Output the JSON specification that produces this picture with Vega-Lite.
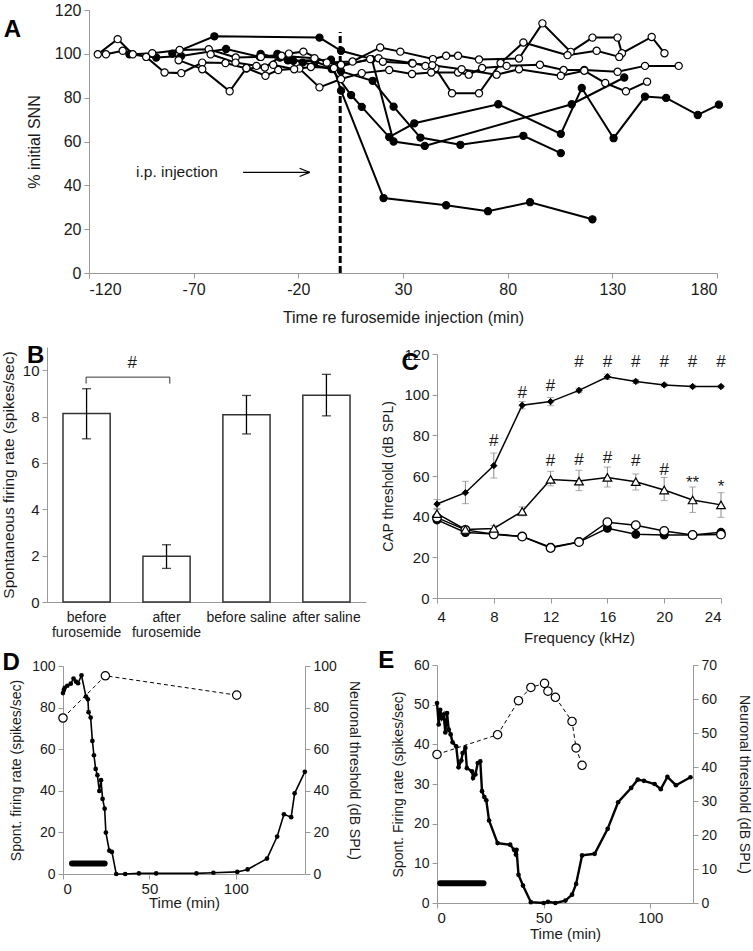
{
"$schema":"https://vega.github.io/schema/vega-lite/v6.json",
"background":"white",
"padding":{"left":0,"top":2,"right":1,"bottom":2},
"config":{
 "view":{"stroke":null},
 "font":"Liberation Sans",
 "axis":{"grid":false,"domainColor":"#999","domainWidth":1,"tickColor":"#999","tickSize":5,"labelColor":"#1a1a1a","titleColor":"#1a1a1a","labelFont":"Liberation Sans","titleFont":"Liberation Sans","labelFontSize":14,"titleFontSize":14,"titleFontWeight":"normal","labelPadding":3,"labelOverlap":false},
 "text":{"font":"Liberation Sans"}
},
"datasets":{
 "S":[{"a":0}],
 "A":[
  {"s":"F1","g":"F","t":-80.2,"v":100.1},{"s":"F1","g":"F","t":-60.1,"v":108},{"s":"F1","g":"F","t":-9.9,"v":107.4},{"s":"F1","g":"F","t":0.4,"v":101.4},{"s":"F1","g":"F","t":15.1,"v":97.6},{"s":"F1","g":"F","t":25.5,"v":60},{"s":"F1","g":"F","t":40.4,"v":58},{"s":"F1","g":"F","t":110.6,"v":77},{"s":"F1","g":"F","t":135.7,"v":89.2},
  {"s":"F2","g":"F","t":-100.7,"v":99.8},{"s":"F2","g":"F","t":-87.9,"v":98.3},{"s":"F2","g":"F","t":-76,"v":99},{"s":"F2","g":"F","t":-54.5,"v":102.2},{"s":"F2","g":"F","t":-38.4,"v":98.6},{"s":"F2","g":"F","t":-28.8,"v":98.3},{"s":"F2","g":"F","t":-22.4,"v":96.8},{"s":"F2","g":"F","t":-4.4,"v":97.3},{"s":"F2","g":"F","t":0.4,"v":83.2},{"s":"F2","g":"F","t":20.7,"v":34.2},{"s":"F2","g":"F","t":50.6,"v":30.9},{"s":"F2","g":"F","t":70.6,"v":28.2},{"s":"F2","g":"F","t":90.7,"v":32.3},{"s":"F2","g":"F","t":120.5,"v":24.5},
  {"s":"F3","g":"F","t":-38,"v":100},{"s":"F3","g":"F","t":-25,"v":97},{"s":"F3","g":"F","t":-12,"v":96.5},{"s":"F3","g":"F","t":0.4,"v":92},{"s":"F3","g":"F","t":15.5,"v":87.7},{"s":"F3","g":"F","t":25.5,"v":75.9},{"s":"F3","g":"F","t":38.3,"v":61.8},{"s":"F3","g":"F","t":57.4,"v":58.5},{"s":"F3","g":"F","t":87.5,"v":62.6},{"s":"F3","g":"F","t":105.4,"v":54.7},
  {"s":"F4","g":"F","t":-30,"v":100},{"s":"F4","g":"F","t":-18,"v":96},{"s":"F4","g":"F","t":-4,"v":93},{"s":"F4","g":"F","t":5.2,"v":81.2},{"s":"F4","g":"F","t":10.3,"v":75.8},{"s":"F4","g":"F","t":23.4,"v":62},{"s":"F4","g":"F","t":35.4,"v":68.3},{"s":"F4","g":"F","t":75.5,"v":77},{"s":"F4","g":"F","t":105.4,"v":63.5},{"s":"F4","g":"F","t":115.4,"v":84.4},{"s":"F4","g":"F","t":130.6,"v":61.5},{"s":"F4","g":"F","t":145.6,"v":80.5},{"s":"F4","g":"F","t":155.7,"v":79.9},{"s":"F4","g":"F","t":170.8,"v":72.1},{"s":"F4","g":"F","t":180.9,"v":76.8},
  {"s":"O1","g":"O","t":-115.8,"v":99.8},{"s":"O1","g":"O","t":-106.3,"v":106.7},{"s":"O1","g":"O","t":-99.1,"v":99.8},{"s":"O1","g":"O","t":-89.8,"v":100.3},{"s":"O1","g":"O","t":-76.7,"v":101.8},{"s":"O1","g":"O","t":-62.8,"v":102.1},{"s":"O1","g":"O","t":-49.9,"v":98.3},{"s":"O1","g":"O","t":-37.9,"v":98.6},{"s":"O1","g":"O","t":-24.5,"v":100.1},{"s":"O1","g":"O","t":-17.6,"v":101},{"s":"O1","g":"O","t":-6.4,"v":96},{"s":"O1","g":"O","t":5.9,"v":96.5},{"s":"O1","g":"O","t":19.1,"v":102.9},{"s":"O1","g":"O","t":28.7,"v":101},{"s":"O1","g":"O","t":44.3,"v":97.6},{"s":"O1","g":"O","t":50.6,"v":99.1},{"s":"O1","g":"O","t":56.3,"v":99.1},{"s":"O1","g":"O","t":66.3,"v":97.4},{"s":"O1","g":"O","t":85.4,"v":97.9},{"s":"O1","g":"O","t":96.6,"v":113.9},{"s":"O1","g":"O","t":110.1,"v":100.9},{"s":"O1","g":"O","t":120.5,"v":107.4},{"s":"O1","g":"O","t":132.5,"v":107.4},{"s":"O1","g":"O","t":134.6,"v":100.3},{"s":"O1","g":"O","t":148.8,"v":107.7},{"s":"O1","g":"O","t":154.9,"v":100.3},
  {"s":"O2","g":"O","t":-111.9,"v":99.8},{"s":"O2","g":"O","t":-103.9,"v":101.4},{"s":"O2","g":"O","t":-92.7,"v":98.6},{"s":"O2","g":"O","t":-83.9,"v":91.5},{"s":"O2","g":"O","t":-75.9,"v":91.2},{"s":"O2","g":"O","t":-65.9,"v":96},{"s":"O2","g":"O","t":-54.8,"v":95.8},{"s":"O2","g":"O","t":-44.8,"v":93.3},{"s":"O2","g":"O","t":-36,"v":93.8},{"s":"O2","g":"O","t":-28,"v":99.1},{"s":"O2","g":"O","t":-12.3,"v":98},{"s":"O2","g":"O","t":0.4,"v":95},{"s":"O2","g":"O","t":18.3,"v":98},{"s":"O2","g":"O","t":34.3,"v":95.8},{"s":"O2","g":"O","t":40.7,"v":94.5},{"s":"O2","g":"O","t":45.5,"v":93.5},{"s":"O2","g":"O","t":53.4,"v":82},{"s":"O2","g":"O","t":66.3,"v":82},{"s":"O2","g":"O","t":76.6,"v":95.8},{"s":"O2","g":"O","t":87.5,"v":105.2},{"s":"O2","g":"O","t":108.6,"v":99.4},{"s":"O2","g":"O","t":122.5,"v":101.4},{"s":"O2","g":"O","t":133.3,"v":98.6},
  {"s":"O3","g":"O","t":-77.2,"v":97.1},{"s":"O3","g":"O","t":-65.9,"v":93},{"s":"O3","g":"O","t":-52.8,"v":82.9},{"s":"O3","g":"O","t":-44.8,"v":93.5},{"s":"O3","g":"O","t":-35.7,"v":90},{"s":"O3","g":"O","t":-29.6,"v":92.6},{"s":"O3","g":"O","t":-19.5,"v":93.3},{"s":"O3","g":"O","t":-9.9,"v":84.7},{"s":"O3","g":"O","t":0.4,"v":88.5},{"s":"O3","g":"O","t":10.3,"v":91.2},{"s":"O3","g":"O","t":23.4,"v":92.6},{"s":"O3","g":"O","t":34.3,"v":90.8},{"s":"O3","g":"O","t":43.5,"v":91.5},{"s":"O3","g":"O","t":56.3,"v":91.5},{"s":"O3","g":"O","t":61.4,"v":90.5},{"s":"O3","g":"O","t":67.8,"v":93.5},{"s":"O3","g":"O","t":79.5,"v":94.5},{"s":"O3","g":"O","t":95.4,"v":95},{"s":"O3","g":"O","t":106.7,"v":92.6},{"s":"O3","g":"O","t":116.6,"v":92.6},{"s":"O3","g":"O","t":132.5,"v":91.8},{"s":"O3","g":"O","t":145.6,"v":94.5},{"s":"O3","g":"O","t":161.7,"v":94.5},
  {"s":"O4","g":"O","t":-61.9,"v":99.8},{"s":"O4","g":"O","t":-50,"v":96},{"s":"O4","g":"O","t":-40,"v":94.5},{"s":"O4","g":"O","t":-32,"v":95},{"s":"O4","g":"O","t":-22,"v":93},{"s":"O4","g":"O","t":-14,"v":94},{"s":"O4","g":"O","t":-3,"v":93.5},{"s":"O4","g":"O","t":14.3,"v":97.6},{"s":"O4","g":"O","t":20.4,"v":96.4},{"s":"O4","g":"O","t":34.6,"v":95.6},{"s":"O4","g":"O","t":44,"v":94.8},{"s":"O4","g":"O","t":58,"v":93},{"s":"O4","g":"O","t":74.7,"v":90.5},{"s":"O4","g":"O","t":85.4,"v":93},{"s":"O4","g":"O","t":105.4,"v":90},{"s":"O4","g":"O","t":116.6,"v":92.3},{"s":"O4","g":"O","t":126.6,"v":86.7},{"s":"O4","g":"O","t":136.5,"v":82.9},{"s":"O4","g":"O","t":146.6,"v":87.3}
 ],
 "B":[
  {"cond":"before furosemide","m":8.13,"lo":7.04,"hi":9.2},
  {"cond":"after furosemide","m":1.97,"lo":1.45,"hi":2.47},
  {"cond":"before saline","m":8.08,"lo":7.25,"hi":8.91},
  {"cond":"after saline","m":8.92,"lo":8.03,"hi":9.82}
 ],
 "C":[
  {"s":"fc","f":4,"v":38.4},{"s":"fc","f":6,"v":32.2},{"s":"fc","f":8,"v":31.5},{"s":"fc","f":10,"v":30.3},{"s":"fc","f":12,"v":25},{"s":"fc","f":14,"v":27.5},{"s":"fc","f":16,"v":34.3},{"s":"fc","f":18,"v":31.3},{"s":"fc","f":20,"v":31},{"s":"fc","f":22,"v":31},{"s":"fc","f":24,"v":32.3},
  {"s":"oc","f":4,"v":39.5},{"s":"oc","f":6,"v":33.5},{"s":"oc","f":8,"v":31.3},{"s":"oc","f":10,"v":30.2},{"s":"oc","f":12,"v":24.6},{"s":"oc","f":14,"v":27.5},{"s":"oc","f":16,"v":37.3},{"s":"oc","f":18,"v":35.8},{"s":"oc","f":20,"v":33},{"s":"oc","f":22,"v":31},{"s":"oc","f":24,"v":31.2},
  {"s":"tri","f":4,"v":41.5,"lo":39.5,"hi":43.5},{"s":"tri","f":6,"v":33.7,"lo":32.2,"hi":35.2},{"s":"tri","f":8,"v":34.2,"lo":32.7,"hi":35.7},{"s":"tri","f":10,"v":42.6,"lo":40.4,"hi":44.8},{"s":"tri","f":12,"v":58.3,"lo":55.2,"hi":62.3},{"s":"tri","f":14,"v":57.5,"lo":52.8,"hi":62.8},{"s":"tri","f":16,"v":59.3,"lo":54.6,"hi":64.4},{"s":"tri","f":18,"v":57.2,"lo":53.1,"hi":61},{"s":"tri","f":20,"v":53.1,"lo":47.9,"hi":59.3},{"s":"tri","f":22,"v":48.2,"lo":42.1,"hi":54.6},{"s":"tri","f":24,"v":45.8,"lo":39.7,"hi":51.8},
  {"s":"furo","f":4,"v":46.2,"lo":44,"hi":48.4},{"s":"furo","f":6,"v":51.8,"lo":46.4,"hi":57.4},{"s":"furo","f":8,"v":65.1,"lo":59,"hi":71.3},{"s":"furo","f":10,"v":94.8,"lo":93,"hi":96.6},{"s":"furo","f":12,"v":96.6,"lo":94.6,"hi":98.6},{"s":"furo","f":14,"v":102.1,"lo":101,"hi":103.2},{"s":"furo","f":16,"v":108.8,"lo":107.5,"hi":110.1},{"s":"furo","f":18,"v":106.5,"lo":105.5,"hi":107.5},{"s":"furo","f":20,"v":104.8,"lo":104,"hi":105.6},{"s":"furo","f":22,"v":104,"lo":103.3,"hi":104.7},{"s":"furo","f":24,"v":104,"lo":103.3,"hi":104.7}
 ],
 "Ct":[
  {"f":8,"v":77,"t":"#"},{"f":10,"v":101,"t":"#"},{"f":12,"v":104.4,"t":"#"},{"f":14,"v":116.2,"t":"#"},{"f":16,"v":116.2,"t":"#"},{"f":18,"v":116.2,"t":"#"},{"f":20,"v":116.2,"t":"#"},{"f":22,"v":116.2,"t":"#"},{"f":24,"v":116.2,"t":"#"},
  {"f":12,"v":67.2,"t":"#"},{"f":14,"v":68,"t":"#"},{"f":16,"v":68.9,"t":"#"},{"f":18,"v":67.2,"t":"#"},{"f":20,"v":63.1,"t":"#"},{"f":22,"v":56.6,"t":"**"},{"f":24,"v":54.6,"t":"*"}
 ],
 "Df":[
  {"t":0,"v":87},{"t":0.5,"v":88.5},{"t":1,"v":89.5},{"t":2.5,"v":90.5},{"t":4.5,"v":91.5},{"t":6.1,"v":94},{"t":7.5,"v":92.5},{"t":8.7,"v":91.7},{"t":10.7,"v":95.5},{"t":13.3,"v":85.3},{"t":14.4,"v":84},{"t":14.8,"v":77.8},{"t":16,"v":75.2},{"t":17,"v":64},{"t":17.9,"v":57.1},{"t":18.9,"v":50.5},{"t":19.9,"v":47.5},{"t":21,"v":39.9},{"t":22,"v":45.1},{"t":22.9,"v":36.1},{"t":24.1,"v":31.4},{"t":24.8,"v":19.9},{"t":26.8,"v":11.2},{"t":28.3,"v":10.6},{"t":30.8,"v":0},{"t":36,"v":0},{"t":43.9,"v":0.3},{"t":53.9,"v":0.3},{"t":77.2,"v":0.3},{"t":87,"v":0.6},{"t":100.8,"v":1},{"t":106.8,"v":2.2},{"t":118,"v":7.4},{"t":123.9,"v":18},{"t":127.8,"v":28.7},{"t":132,"v":27.3},{"t":134,"v":38.8},{"t":139.9,"v":49.1}
 ],
 "Do":[{"t":0,"v":75},{"t":24.5,"v":95.3},{"t":100.5,"v":86}],
 "Dbar":[{"t":5.2,"t2":24.1,"v":5}],
 "Ef":[
  {"t":0,"v":50.4},{"t":0.8,"v":45},{"t":1.5,"v":48.7},{"t":2.3,"v":46.6},{"t":3.1,"v":47.5},{"t":3.9,"v":43},{"t":4.7,"v":47.9},{"t":5.5,"v":43.7},{"t":6.4,"v":42.5},{"t":7.3,"v":40.5},{"t":9,"v":39.5},{"t":10.1,"v":34.2},{"t":11.4,"v":35.9},{"t":12,"v":37.8},{"t":13.3,"v":39.1},{"t":14,"v":34},{"t":16.4,"v":33.2},{"t":16.9,"v":31.5},{"t":18,"v":32.4},{"t":19.1,"v":35.3},{"t":20.3,"v":35.7},{"t":21.1,"v":28.2},{"t":22.2,"v":26.7},{"t":23.1,"v":25.9},{"t":24.4,"v":20.8},{"t":28.4,"v":15.1},{"t":34.3,"v":14.7},{"t":36.1,"v":13.4},{"t":37,"v":12.2},{"t":37.3,"v":13.4},{"t":38.2,"v":7.1},{"t":40.3,"v":4.4},{"t":44,"v":0.2},{"t":50,"v":0},{"t":52,"v":0.3},{"t":55.5,"v":0},{"t":60.2,"v":0.6},{"t":63.3,"v":2.1},{"t":65.2,"v":4.8},{"t":68,"v":12},{"t":73.9,"v":12.4},{"t":80,"v":18.7},{"t":84.9,"v":25.4},{"t":91,"v":29},{"t":94.1,"v":31.1},{"t":97,"v":30.8},{"t":102,"v":30},{"t":104.9,"v":28.7},{"t":108,"v":31.8},{"t":112,"v":29.7},{"t":118.8,"v":31.7}
 ],
 "Eo":[{"t":0,"v":43.7},{"t":28.4,"v":49.5},{"t":38.2,"v":59.5},{"t":44,"v":63.4},{"t":50.4,"v":64.6},{"t":52,"v":62.3},{"t":55.5,"v":60.5},{"t":63.3,"v":53.4},{"t":65.2,"v":45.6},{"t":68,"v":40.5}],
 "Ebar":[{"t":1.5,"t2":21.8,"v":5}]
},
"columns":1,
"spacing":19,
"align":"none",
"concat":[
 {
  "spacing":2,"align":"none",
  "concat":[
   {"width":1,"height":1,"data":{"name":"S"},"mark":{"type":"point","size":0,"opacity":0,"strokeWidth":0}},
   {
    "width":628,"height":263,
    "layer":[
     {"data":{"name":"A"},"mark":{"type":"line","color":"black","strokeWidth":2},
      "encoding":{
       "x":{"field":"t","type":"quantitative","scale":{"domain":[-120,180],"nice":false,"zero":false},"axis":{"values":[-120,-70,-20,30,80,130,180],"labelExpr":"toString(datum.value)","title":"Time re furosemide injection (min)","labelFontSize":16,"titleFontSize":16,"titlePadding":12}},
       "y":{"field":"v","type":"quantitative","scale":{"domain":[0,120],"nice":false},"axis":{"values":[0,20,40,60,80,100,120],"title":"% initial SNN","labelFontSize":16,"titleFontSize":16,"titlePadding":12}},
       "detail":{"field":"s"}}},
     {"data":{"values":[{"t":0,"v":0,"v2":110}]},"mark":{"type":"rule","strokeDash":[7,3],"strokeWidth":3,"color":"black"},
      "encoding":{"x":{"field":"t","type":"quantitative"},"y":{"field":"v","type":"quantitative"},"y2":{"field":"v2"}}},
     {"data":{"values":[{"t":-46.4,"v":45.9,"t2":-14.6,"v2":45.9},{"t":-19.4,"v":47.8,"t2":-14.6,"v2":45.9},{"t":-19.4,"v":44,"t2":-14.6,"v2":45.9}]},"mark":{"type":"rule","strokeWidth":1.2,"color":"black"},
      "encoding":{"x":{"field":"t","type":"quantitative"},"y":{"field":"v","type":"quantitative"},"x2":{"field":"t2"},"y2":{"field":"v2"}}},
     {"data":{"values":[{"t":-97.5,"v":45.9,"label":"i.p. injection"}]},"mark":{"type":"text","align":"left","baseline":"middle","fontSize":15.5,"color":"#1a1a1a"},
      "encoding":{"x":{"field":"t","type":"quantitative"},"y":{"field":"v","type":"quantitative"},"text":{"field":"label"}}},
     {"data":{"values":[{"t":-160.7,"v":107.7,"label":"A"}]},"mark":{"type":"text","align":"left","baseline":"alphabetic","fontSize":24,"fontWeight":"bold","color":"black"},
      "encoding":{"x":{"field":"t","type":"quantitative"},"y":{"field":"v","type":"quantitative"},"text":{"field":"label"}}},
     {"data":{"name":"A"},"transform":[{"filter":"datum.g == 'F'"}],"mark":{"type":"point","shape":"circle","filled":true,"fill":"black","stroke":"black","strokeWidth":1.1,"size":52,"opacity":1},
      "encoding":{"x":{"field":"t","type":"quantitative"},"y":{"field":"v","type":"quantitative"}}},
     {"data":{"name":"A"},"transform":[{"filter":"datum.g == 'O'"}],"mark":{"type":"point","shape":"circle","filled":true,"fill":"white","stroke":"black","strokeWidth":1.2,"size":52,"opacity":1},
      "encoding":{"x":{"field":"t","type":"quantitative"},"y":{"field":"v","type":"quantitative"}}}
    ]
   }
  ]
 },
 {
  "spacing":12,
  "align":"none",
  "concat":[
   {
    "columns":1,"spacing":11,"align":"none",
    "concat":[
     {
      "spacing":0,"align":"none",
      "concat":[
       {"width":1,"height":1,"data":{"name":"S"},"mark":{"type":"point","size":0,"opacity":0,"strokeWidth":0}},
       {
        "width":319,"height":255,
        "resolve":{"scale":{"x":"independent"}},
        "layer":[
         {"data":{"name":"B"},
          "encoding":{"x":{"field":"cond","type":"nominal","sort":["before furosemide","after furosemide","before saline","after saline"],"scale":{"paddingInner":0.41,"paddingOuter":0.2},
            "axis":{"title":null,"labelAngle":0,"ticks":false,"labelFontSize":14,"labelPadding":8,"labelLineHeight":15,"labelLimit":200,"labelExpr":"datum.value == 'before furosemide' ? ['before','furosemide'] : datum.value == 'after furosemide' ? ['after','furosemide'] : datum.value"}}},
          "layer":[
           {"mark":{"type":"bar","fill":"white","stroke":"#333","strokeWidth":1.5},
            "encoding":{"y":{"field":"m","type":"quantitative","scale":{"domain":[0,11],"nice":false},"axis":{"values":[0,2,4,6,8,10],"title":"Spontaneous firing rate (spikes/sec)","labelFontSize":15,"titleFontSize":15.5,"titlePadding":6}}}},
           {"mark":{"type":"rule","color":"black","strokeWidth":1.3},"encoding":{"y":{"field":"lo","type":"quantitative"},"y2":{"field":"hi"}}},
           {"transform":[{"fold":["lo","hi"],"as":["k","val"]}],"mark":{"type":"tick","color":"black","thickness":1.3,"size":9,"orient":"horizontal"},"encoding":{"y":{"field":"val","type":"quantitative"}}}
          ]},
         {"layer":[
           {"data":{"values":[{"a":0.49,"b":1.54,"y":9.7,"y2":9.7},{"a":0.49,"b":0.49,"y":9.42,"y2":9.7},{"a":1.54,"b":1.54,"y":9.42,"y2":9.7}]},"mark":{"type":"rule","color":"#333","strokeWidth":1},
            "encoding":{"x":{"field":"a","type":"quantitative","scale":{"domain":[0,4],"nice":false},"axis":null},"x2":{"field":"b"},"y":{"field":"y","type":"quantitative"},"y2":{"field":"y2"}}},
           {"data":{"values":[{"a":1.07,"y":10.3,"label":"#"}]},"mark":{"type":"text","fontSize":17,"baseline":"middle","align":"center","color":"#1a1a1a"},
            "encoding":{"x":{"field":"a","type":"quantitative","scale":{"domain":[0,4],"nice":false},"axis":null},"y":{"field":"y","type":"quantitative"},"text":{"field":"label"}}},
           {"data":{"values":[{"a":-0.25,"y":10.3,"label":"B"}]},"mark":{"type":"text","fontSize":24,"fontWeight":"bold","baseline":"alphabetic","align":"left","color":"black"},
            "encoding":{"x":{"field":"a","type":"quantitative","scale":{"domain":[0,4],"nice":false},"axis":null},"y":{"field":"y","type":"quantitative"},"text":{"field":"label"}}}
         ]}
        ]
       }
      ]
     },
     {
      "spacing":1,"align":"none",
      "concat":[
       {"width":1,"height":1,"data":{"name":"S"},"mark":{"type":"point","size":0,"opacity":0,"strokeWidth":0}},
       {
        "width":242,"height":208,
        "resolve":{"scale":{"y":"independent"}},
        "layer":[
         {"layer":[
           {"data":{"name":"Df"},"mark":{"type":"line","color":"black","strokeWidth":1.6},
            "encoding":{"x":{"field":"t","type":"quantitative","scale":{"domain":[0,140],"nice":false},"axis":{"values":[0,50,100],"title":"Time (min)","titlePadding":-1,"labelPadding":2,"labelFontSize":15,"titleFontSize":15}},
             "y":{"field":"v","type":"quantitative","scale":{"domain":[0,100],"nice":false},"axis":{"values":[0,20,40,60,80,100],"title":"Spont. firing rate (spikes/sec)","titlePadding":8}}}},
           {"data":{"name":"Dbar"},"mark":{"type":"rule","strokeWidth":6,"strokeCap":"round","color":"black"},
            "encoding":{"x":{"field":"t","type":"quantitative"},"x2":{"field":"t2"},"y":{"field":"v","type":"quantitative"}}},
           {"data":{"name":"Df"},"mark":{"type":"point","filled":true,"color":"black","size":22,"opacity":1},
            "encoding":{"x":{"field":"t","type":"quantitative"},"y":{"field":"v","type":"quantitative"}}},
           {"data":{"values":[{"t":-35,"v":98.1,"label":"D"}]},"mark":{"type":"text","fontSize":24,"fontWeight":"bold","baseline":"alphabetic","align":"left","color":"black"},
            "encoding":{"x":{"field":"t","type":"quantitative"},"y":{"field":"v","type":"quantitative"},"text":{"field":"label"}}}
         ]},
         {"layer":[
           {"data":{"name":"Do"},"mark":{"type":"line","color":"black","strokeWidth":1,"strokeDash":[4,3]},
            "encoding":{"x":{"field":"t","type":"quantitative"},"y":{"field":"v","type":"quantitative","scale":{"domain":[0,100],"nice":false},"axis":{"orient":"right","values":[0,20,40,60,80,100],"title":"Neuronal threshold (dB SPL)","titlePadding":10}}}},
           {"data":{"name":"Do"},"mark":{"type":"point","filled":true,"fill":"white","stroke":"black","strokeWidth":1.2,"size":70,"opacity":1},
            "encoding":{"x":{"field":"t","type":"quantitative"},"y":{"field":"v","type":"quantitative"}}}
         ]}
        ]
       }
      ]
     }
    ]
   },
   {
    "columns":1,"spacing":-1,"align":"none",
    "concat":[
     {"width":1,"height":1,"data":{"name":"S"},"mark":{"type":"point","size":0,"opacity":0,"strokeWidth":0}},
     {
      "columns":1,"spacing":4,"align":"none",
      "concat":[
       {
        "width":284,"height":244,
        "layer":[
         {"data":{"name":"C"},"transform":[{"filter":"isValid(datum.lo)"}],
          "layer":[
           {"mark":{"type":"rule","color":"#888","strokeWidth":1},"encoding":{"x":{"field":"f","type":"quantitative"},"y":{"field":"lo","type":"quantitative"},"y2":{"field":"hi"}}},
           {"transform":[{"fold":["lo","hi"],"as":["k","val"]}],"mark":{"type":"tick","color":"#888","thickness":1,"size":7,"orient":"horizontal"},"encoding":{"x":{"field":"f","type":"quantitative"},"y":{"field":"val","type":"quantitative"}}}
          ]},
         {"data":{"name":"C"},"mark":{"type":"line","color":"black","strokeWidth":1.5},
          "encoding":{"x":{"field":"f","type":"quantitative","scale":{"domain":[4,24],"nice":false,"zero":false},"axis":{"values":[4,6,8,10,12,14,16,18,20,22,24],"title":"Frequency (kHz)","labelFontSize":15,"titleFontSize":15,"labelPadding":6,"titlePadding":6}},
           "y":{"field":"v","type":"quantitative","scale":{"domain":[0,120],"nice":false},"axis":{"values":[0,20,40,60,80,100,120],"title":"CAP threshold (dB SPL)","labelFontSize":15,"titleFontSize":14,"titlePadding":8}},
           "detail":{"field":"s"}}},
         {"data":{"name":"C"},"transform":[{"filter":"datum.s == 'fc'"}],"mark":{"type":"point","shape":"circle","filled":true,"fill":"black","stroke":"black","strokeWidth":1.2,"size":60,"opacity":1},
          "encoding":{"x":{"field":"f","type":"quantitative"},"y":{"field":"v","type":"quantitative"}}},
         {"data":{"name":"C"},"transform":[{"filter":"datum.s == 'oc'"}],"mark":{"type":"point","shape":"circle","filled":true,"fill":"white","stroke":"black","strokeWidth":1.3,"size":75,"opacity":1},
          "encoding":{"x":{"field":"f","type":"quantitative"},"y":{"field":"v","type":"quantitative"}}},
         {"data":{"name":"C"},"transform":[{"filter":"datum.s == 'tri'"}],"mark":{"type":"point","shape":"triangle-up","filled":true,"fill":"white","stroke":"black","strokeWidth":1.2,"size":75,"opacity":1},
          "encoding":{"x":{"field":"f","type":"quantitative"},"y":{"field":"v","type":"quantitative"}}},
         {"data":{"name":"C"},"transform":[{"filter":"datum.s == 'furo'"}],"mark":{"type":"point","shape":"diamond","filled":true,"fill":"black","stroke":"black","strokeWidth":1,"size":40,"opacity":1},
          "encoding":{"x":{"field":"f","type":"quantitative"},"y":{"field":"v","type":"quantitative"}}},
         {"data":{"name":"Ct"},"mark":{"type":"text","fontSize":17,"baseline":"middle","align":"center","color":"#1a1a1a"},
          "encoding":{"x":{"field":"f","type":"quantitative"},"y":{"field":"v","type":"quantitative"},"text":{"field":"t"}}},
         {"data":{"values":[{"f":1.5,"v":112.3,"t":"C"}]},"mark":{"type":"text","fontSize":24,"fontWeight":"bold","baseline":"alphabetic","align":"left","color":"black"},
          "encoding":{"x":{"field":"f","type":"quantitative"},"y":{"field":"v","type":"quantitative"},"text":{"field":"t"}}}
        ]
       },
       {
        "width":256,"height":238,
        "resolve":{"scale":{"y":"independent"}},
        "layer":[
         {"layer":[
           {"data":{"name":"Ef"},"mark":{"type":"line","color":"black","strokeWidth":2.4},
            "encoding":{"x":{"field":"t","type":"quantitative","scale":{"domain":[0,120],"nice":false},"axis":{"values":[0,50,100],"title":"Time (min)","titlePadding":1,"labelPadding":2,"labelFontSize":15,"titleFontSize":15}},
             "y":{"field":"v","type":"quantitative","scale":{"domain":[0,60],"nice":false},"axis":{"tickCount":7,"title":"Spont. Firing rate (spikes/sec)","titlePadding":8,"labelOverlap":false}}}},
           {"data":{"name":"Ebar"},"mark":{"type":"rule","strokeWidth":6,"strokeCap":"round","color":"black"},
            "encoding":{"x":{"field":"t","type":"quantitative"},"x2":{"field":"t2"},"y":{"field":"v","type":"quantitative"}}},
           {"data":{"name":"Ef"},"mark":{"type":"point","filled":true,"color":"black","size":22,"opacity":1},
            "encoding":{"x":{"field":"t","type":"quantitative"},"y":{"field":"v","type":"quantitative"}}},
           {"data":{"values":[{"t":-27.5,"v":59.2,"label":"E"}]},"mark":{"type":"text","fontSize":24,"fontWeight":"bold","baseline":"alphabetic","align":"left","color":"black"},
            "encoding":{"x":{"field":"t","type":"quantitative"},"y":{"field":"v","type":"quantitative"},"text":{"field":"label"}}}
         ]},
         {"layer":[
           {"data":{"name":"Eo"},"mark":{"type":"line","color":"black","strokeWidth":1,"strokeDash":[4,3]},
            "encoding":{"x":{"field":"t","type":"quantitative"},"y":{"field":"v","type":"quantitative","scale":{"domain":[0,70],"nice":false},"axis":{"orient":"right","tickCount":8,"title":"Neuronal threshold (dB SPL)","titlePadding":20,"labelOverlap":false}}}},
           {"data":{"name":"Eo"},"mark":{"type":"point","filled":true,"fill":"white","stroke":"black","strokeWidth":1.2,"size":70,"opacity":1},
            "encoding":{"x":{"field":"t","type":"quantitative"},"y":{"field":"v","type":"quantitative"}}}
         ]}
        ]
       }
      ]
     }
    ]
   }
  ]
 }
]
}
